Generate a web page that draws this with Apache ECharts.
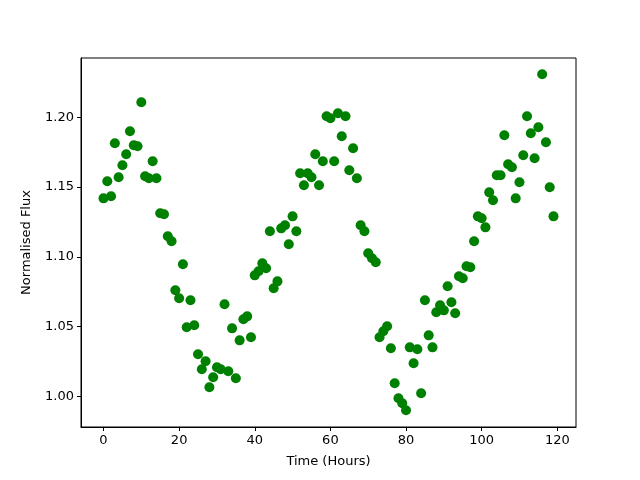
<!DOCTYPE html>
<html>
<head>
<meta charset="utf-8">
<script src="https://cdn.jsdelivr.net/npm/echarts@6/dist/echarts.min.js"></script>
<style>
  html, body { margin: 0; padding: 0; background: #fff; }
  #chart { width: 640px; height: 480px; }
</style>
</head>
<body>
<div id="chart"></div>
<script>
// 数据：每小时一个点 (0..119)
const hours = Array.from({ length: 120 }, (_, i) => i)
const flux = [
  1.1419, 1.1541, 1.1434, 1.1814, 1.1570, 1.1656, 1.1735, 1.1900, 1.1799, 1.1792,
  1.2108, 1.1577, 1.1563, 1.1685, 1.1563, 1.1312, 1.1305, 1.1147, 1.1111, 1.0760,
  1.0703, 1.0946, 1.0495, 1.0688, 1.0509, 1.0301, 1.0194, 1.0251, 1.0065, 1.0136,
  1.0208, 1.0194, 1.0660, 1.0179, 1.0487, 1.0129, 1.0401, 1.0552, 1.0573, 1.0423,
  1.0867, 1.0896, 1.0953, 1.0918, 1.1183, 1.0774, 1.0824, 1.1204, 1.1226, 1.1090,
  1.1290, 1.1183, 1.1599, 1.1513, 1.1599, 1.1570, 1.1735, 1.1513, 1.1685, 1.2007,
  1.1993, 1.1685, 1.2029, 1.1864, 1.2007, 1.1620, 1.1778, 1.1563, 1.1226, 1.1183,
  1.1025, 1.0989, 1.0961, 1.0423, 1.0466, 1.0502, 1.0344, 1.0093, 0.9986, 0.9950,
  0.9900, 1.0351, 1.0237, 1.0337, 1.0022, 1.0688, 1.0437, 1.0351, 1.0602, 1.0652,
  1.0616, 1.0789, 1.0674, 1.0595, 1.0860, 1.0846, 1.0932, 1.0925, 1.1111, 1.1290,
  1.1276, 1.1211, 1.1462, 1.1405, 1.1584, 1.1584, 1.1871, 1.1663, 1.1642, 1.1419,
  1.1534, 1.1728, 1.2007, 1.1885, 1.1706, 1.1928, 1.2308, 1.1821, 1.1498, 1.1290
]
const xTicks = [0, 20, 40, 60, 80, 100, 120]
const yTicks = [1.00, 1.05, 1.10, 1.15, 1.20]

const font = 'DejaVu Sans'
const chart = echarts.init(document.getElementById('chart'))

chart.setOption({
  animation: false,
  textStyle: { fontFamily: font },
  grid: {
    show: true,
    left: 81,
    right: 64,
    top: 58,
    bottom: 53,
    borderColor: '#000',
    borderWidth: 1
  },
  xAxis: {
    type: 'value',
    min: -5.95,
    max: 124.95,
    name: 'Time (Hours)',
    nameLocation: 'middle',
    nameGap: 28,
    nameTextStyle: { color: '#000', fontSize: 13, fontFamily: font },
    axisLine: { show: true, onZero: false, lineStyle: { color: '#000', width: 1 } },
    axisTick: { show: true, length: 4, customValues: xTicks, lineStyle: { color: '#000' } },
    axisLabel: {
      color: '#000', fontSize: 13, fontFamily: font, margin: 7,
      customValues: xTicks,
      formatter: v => String(Math.round(v))
    },
    splitLine: { show: false }
  },
  yAxis: {
    type: 'value',
    min: 0.978,
    max: 1.2425,
    name: 'Normalised Flux',
    nameLocation: 'middle',
    nameGap: 48,
    nameTextStyle: { color: '#000', fontSize: 13, fontFamily: font },
    axisLine: { show: true, onZero: false, lineStyle: { color: '#000', width: 1 } },
    axisTick: { show: true, length: 4, customValues: yTicks, lineStyle: { color: '#000' } },
    axisLabel: {
      color: '#000', fontSize: 13, fontFamily: font, margin: 7,
      customValues: yTicks,
      formatter: v => v.toFixed(2)
    },
    splitLine: { show: false }
  },
  series: [
    {
      type: 'scatter',
      symbol: 'circle',
      symbolSize: 10,
      itemStyle: { color: '#008000', opacity: 1 },
      data: hours.map((h, i) => [h, flux[i]])
    }
  ]
})
</script>
</body>
</html>
